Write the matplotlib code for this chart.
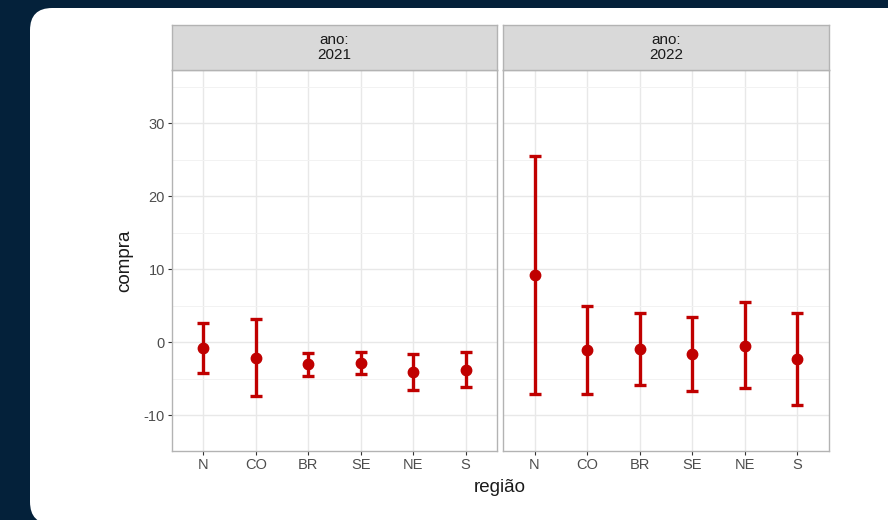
import matplotlib.pyplot as plt
from matplotlib.patches import FancyBboxPatch
from matplotlib.ticker import MultipleLocator

plt.rcParams["font.family"] = ["Liberation Sans", "DejaVu Sans"]
plt.rcParams["axes.unicode_minus"] = False

# data
regioes = ["N", "CO", "BR", "SE", "NE", "S"]
anos = ["2021", "2022"]
media_2021 = [-0.8, -2.1, -3.0, -2.8, -4.05, -3.8]
sup_2021 = [2.65, 3.25, -1.5, -1.3, -1.55, -1.4]
inf_2021 = [-4.25, -7.4, -4.6, -4.3, -6.5, -6.15]
media_2022 = [9.2, -1.05, -0.95, -1.65, -0.45, -2.35]
sup_2022 = [25.5, 5.0, 3.95, 3.5, 5.5, 4.0]
inf_2022 = [-7.05, -7.05, -5.8, -6.7, -6.3, -8.65]

W, H = 888, 520
RED = "#c00000"
GRID = "#e8e8e8"
BORDER = "#b3b3b3"
TXT = "#4d4d4d"

fig = plt.figure(figsize=(W / 100, H / 100), dpi=100)
fig.patch.set_facecolor("#04213a")

# white card behind the chart
card = FancyBboxPatch((30 / W, -4 / H), 2, (520 - 8 + 4) / H,
                      boxstyle="round,pad=0,rounding_size=0.025",
                      transform=fig.transFigure, facecolor="white",
                      edgecolor="none", mutation_aspect=W / H, zorder=-10)
fig.patches.append(card)


def px(x0, y0, x1, y1):
    """pixel box (top-left origin) -> figure fraction rect"""
    return [x0 / W, 1 - y1 / H, (x1 - x0) / W, (y1 - y0) / H]


paineis = [
    (172, 497, media_2021, sup_2021, inf_2021),
    (503, 829, media_2022, sup_2022, inf_2022),
]

for i, (x0, x1, med, sup, inf) in enumerate(paineis):
    ax = fig.add_axes(px(x0, 70, x1, 451))
    ax.set_facecolor("white")
    xs = list(range(1, len(regioes) + 1))
    err = [[m - lo for m, lo in zip(med, inf)], [hi - m for m, hi in zip(med, sup)]]
    ax.errorbar(xs, med, yerr=err, fmt="o", color=RED, ecolor=RED,
                elinewidth=2.4, capsize=4.5, capthick=2.4, markersize=7.5, zorder=3)
    ax.set_xlim(0.4, 6.6)
    ax.set_ylim(-14.9, 37.3)
    ax.set_xticks(xs)
    ax.set_xticklabels(regioes)
    ax.yaxis.set_major_locator(MultipleLocator(10))
    ax.yaxis.set_minor_locator(MultipleLocator(5))
    ax.grid(True, which="major", color=GRID, lw=1.0, zorder=0)
    ax.grid(True, which="minor", axis="y", color="#f2f2f2", lw=0.7, zorder=0)
    ax.set_axisbelow(True)
    for s in ax.spines.values():
        s.set_color(BORDER)
        s.set_linewidth(1.0)
    ax.tick_params(axis="both", which="major", length=3, width=0.8, color="#333333",
                   labelsize=10.5, labelcolor=TXT, pad=2)
    ax.tick_params(axis="y", which="minor", length=0)
    if i == 1:
        ax.tick_params(axis="y", labelleft=False, length=0)

    strip = fig.add_axes(px(x0, 25, x1, 70))
    strip.set_facecolor("#d9d9d9")
    strip.set_xticks([])
    strip.set_yticks([])
    for s in strip.spines.values():
        s.set_color(BORDER)
        s.set_linewidth(1.0)
    strip.text(0.5, 0.5, "ano:\n" + anos[i], ha="center", va="center",
               fontsize=11, color="#1a1a1a", linespacing=1.1,
               transform=strip.transAxes)

fig.text(125 / W, 1 - 261 / H, "compra", rotation=90, ha="center", va="center",
         fontsize=13.5, color="#1a1a1a")
fig.text(500 / W, 1 - 487 / H, "região", ha="center", va="center",
         fontsize=13.5, color="#1a1a1a")

fig.savefig("out.png", dpi=100, facecolor=fig.get_facecolor())
